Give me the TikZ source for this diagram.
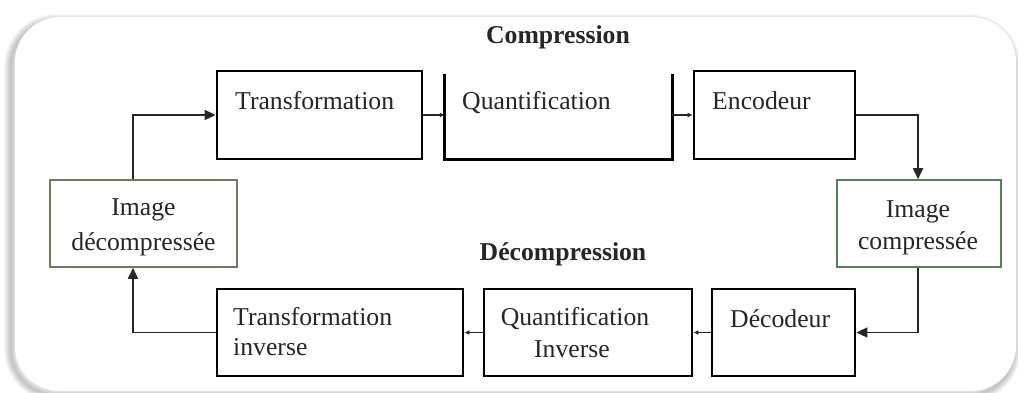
\documentclass[tikz,border=0pt]{standalone}
\usepackage{fontspec}
\setmainfont{Liberation Serif}
\usetikzlibrary{arrows.meta,fit}
\definecolor{compgreen}{RGB}{88,128,88}
\definecolor{decompolive}{RGB}{118,118,98}
\begin{document}
\begin{tikzpicture}[x=1pt,y=-1pt,
  blk/.style={draw=black, line width=2.8pt, inner sep=0pt},
  imgbox/.style={draw=#1, line width=1.6pt, inner sep=0pt},
  txt/.style={font=\fontsize{25.7}{31}\selectfont, inner sep=0pt, text=black!85},
  ttl/.style={font=\fontsize{25.7}{31}\selectfont\bfseries, inner sep=0pt, anchor=base, text=black!85},
  conn/.style={line width=1.8pt, draw=black!85},
  bigarr/.style={conn, -{Triangle[length=11pt,width=10pt]}},
  smallarr/.style={conn, -{Latex[length=5pt,width=5pt]}},
]
\clip (0,0) rectangle (1018,392);
\fill[white] (0,0) rectangle (1018,392);

% soft shadow under the rounded frame
\foreach \i in {1,...,10}
  \draw[black, opacity=0.025, line width=\i*1.4pt, rounded corners=45pt]
    (11,21) rectangle (1014,395);
\fill[white, rounded corners=45pt] (15,17) rectangle (1016,391);

% titles
\node[ttl] (tcomp) at (558,43) {Compression};
\node[ttl] (tdecomp) at (563,260) {Décompression};

% compression chain
\node[blk, fit={(217,71) (422,159)}] (tr) {};
\node[inner sep=0pt, fit={(445,74) (672,159)}] (qu) {};
\draw[black, line width=2.8pt] (qu.north west) -- (qu.south west) -- (qu.south east) -- (qu.north east);
\node[blk, fit={(694,71) (855,159)}] (enc) {};

\node[txt, anchor=base west] (ltr) at (235,109) {Transformation};
\node[txt, anchor=base west] (lqu) at (462,109) {Quantification};
\node[txt, anchor=base west] (lenc) at (712,109) {Encodeur};

% image boxes
\node[imgbox=decompolive, fit={(50,180) (237,267)}] (idec) {};
\node[txt, anchor=base] (lidec1) at (143.5,215) {Image};
\node[txt, anchor=base] (lidec2) at (143.5,250) {décompressée};

\node[imgbox=compgreen, fit={(837,180) (1001,267)}] (icomp) {};
\node[txt, anchor=base] (licomp1) at (918,217) {Image};
\node[txt, anchor=base] (licomp2) at (918,249) {compressée};

% decompression chain
\node[blk, fit={(217,289) (463,376)}] (ti) {};
\node[blk, fit={(484,289) (692,376)}] (qi) {};
\node[blk, fit={(712,289) (855,376)}] (dec) {};

\node[txt, anchor=base west] (lti1) at (233,325) {Transformation};
\node[txt, anchor=base west] (lti2) at (233,355) {inverse};
\node[txt, anchor=base] (lqi1) at (575,325) {Quantification};
\node[txt, anchor=base] (lqi2) at (572,357) {Inverse};
\node[txt, anchor=base west] (ldec) at (730,327) {Décodeur};

% connectors
\draw[bigarr] ([xshift=-10.5pt]idec.north) |- (tr.west);
\draw[smallarr] (tr.east) -- (tr.east -| qu.west);
\draw[smallarr] (tr.east -| qu.east) -- (tr.east -| enc.west);
\draw[bigarr] (enc.east) -| ([xshift=-1pt]icomp.north);
\draw[bigarr] ([xshift=-1pt]icomp.south) |- (dec.east);
\draw[smallarr] (dec.west) -- (qi.east);
\draw[smallarr] (qi.west) -- (ti.east);
\draw[bigarr] (ti.west) -| ([xshift=-10.5pt]idec.south);
\end{tikzpicture}
\end{document}
